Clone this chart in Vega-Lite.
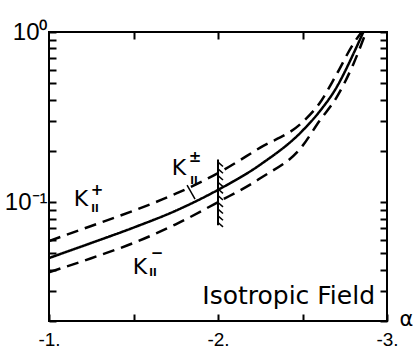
{
  "$schema": "https://vega.github.io/schema/vega-lite/v6.json",
  "width": 338,
  "height": 289,
  "autosize": {"type": "none"},
  "padding": {"left": 49, "top": 32, "right": 30, "bottom": 31},
  "background": "white",
  "config": {"view": {"stroke": "black", "strokeWidth": 2}, "font": "DejaVu Sans"},
  "datasets": {
    "curves": [
      {"series": "Kp", "alpha": -1, "K": 0.059},
      {"series": "Kp", "alpha": -1.25, "K": 0.0724},
      {"series": "Kp", "alpha": -1.5, "K": 0.089},
      {"series": "Kp", "alpha": -1.75, "K": 0.112},
      {"series": "Kp", "alpha": -2, "K": 0.148},
      {"series": "Kp", "alpha": -2.25, "K": 0.209},
      {"series": "Kp", "alpha": -2.5, "K": 0.295},
      {"series": "Kp", "alpha": -2.6, "K": 0.38},
      {"series": "Kp", "alpha": -2.7, "K": 0.56},
      {"series": "Kp", "alpha": -2.8, "K": 0.85},
      {"series": "Kp", "alpha": -2.85, "K": 1.0},
      {"series": "Kpm", "alpha": -1, "K": 0.0469},
      {"series": "Kpm", "alpha": -1.25, "K": 0.0575},
      {"series": "Kpm", "alpha": -1.5, "K": 0.0708},
      {"series": "Kpm", "alpha": -1.75, "K": 0.089},
      {"series": "Kpm", "alpha": -2, "K": 0.118},
      {"series": "Kpm", "alpha": -2.25, "K": 0.166},
      {"series": "Kpm", "alpha": -2.5, "K": 0.263},
      {"series": "Kpm", "alpha": -2.6, "K": 0.34},
      {"series": "Kpm", "alpha": -2.7, "K": 0.47},
      {"series": "Kpm", "alpha": -2.8, "K": 0.74},
      {"series": "Kpm", "alpha": -2.86, "K": 1.0},
      {"series": "Km", "alpha": -1, "K": 0.0387},
      {"series": "Km", "alpha": -1.25, "K": 0.0468},
      {"series": "Km", "alpha": -1.5, "K": 0.0575},
      {"series": "Km", "alpha": -1.75, "K": 0.074},
      {"series": "Km", "alpha": -2, "K": 0.1},
      {"series": "Km", "alpha": -2.25, "K": 0.138},
      {"series": "Km", "alpha": -2.5, "K": 0.214},
      {"series": "Km", "alpha": -2.6, "K": 0.30},
      {"series": "Km", "alpha": -2.7, "K": 0.41},
      {"series": "Km", "alpha": -2.8, "K": 0.645},
      {"series": "Km", "alpha": -2.876, "K": 1.0}
    ],
    "boundary": [{"alpha": -2, "K1": 0.073, "K2": 0.178}],
    "hatch": [
      {"alpha": -2, "K": 0.0759},
      {"alpha": -2, "K": 0.083},
      {"alpha": -2, "K": 0.091},
      {"alpha": -2, "K": 0.0995},
      {"alpha": -2, "K": 0.1091},
      {"alpha": -2, "K": 0.1194},
      {"alpha": -2, "K": 0.1309},
      {"alpha": -2, "K": 0.1432},
      {"alpha": -2, "K": 0.1567},
      {"alpha": -2, "K": 0.1718}
    ],
    "pointer": [{"a1": -1.817, "k1": 0.1259, "a2": -1.864, "k2": 0.1042}],
    "labels": [
      {"role": "K", "alpha": -1.189, "K": 0.1042, "text": "K"},
      {"role": "sup", "alpha": -1.284, "K": 0.1177, "text": "+"},
      {"role": "sub", "alpha": -1.272, "K": 0.091, "text": "II"},
      {"role": "K", "alpha": -1.769, "K": 0.1585, "text": "K"},
      {"role": "sup", "alpha": -1.864, "K": 0.184, "text": "±"},
      {"role": "sub", "alpha": -1.858, "K": 0.133, "text": "II"},
      {"role": "K", "alpha": -1.538, "K": 0.0415, "text": "K"},
      {"role": "sup", "alpha": -1.639, "K": 0.0501, "text": "−"},
      {"role": "sub", "alpha": -1.615, "K": 0.0382, "text": "II"}
    ],
    "note": [{"alpha": -2.929, "K": 0.0251, "text": "Isotropic Field"}]
  },
  "layer": [
    {
      "data": {"name": "curves"},
      "mark": {"type": "line", "color": "black", "strokeWidth": 2.5, "interpolate": "monotone", "clip": true},
      "encoding": {
        "x": {
          "field": "alpha", "type": "quantitative",
          "scale": {"domain": [-1, -3], "nice": false, "zero": false},
          "axis": {
            "orient": "bottom", "grid": false, "domain": false, "offset": -7,
            "values": [-1, -1.5, -2, -2.5, -3],
            "labelExpr": "datum.value == -1 ? '-1.' : datum.value == -2 ? '-2.' : datum.value == -3 ? '-3.' : ''",
            "tickSize": 7, "tickWidth": 2, "tickColor": "black",
            "labelFont": "Liberation Sans", "labelFontSize": 19, "labelColor": "black",
            "labelPadding": 9, "labelFlush": false, "labelOverlap": false,
            "title": "α", "titleX": 350, "titleY": 11, "titleAlign": "left",
            "titleBaseline": "alphabetic", "titleAngle": 0,
            "titleFont": "DejaVu Sans", "titleFontSize": 21, "titleFontWeight": "normal", "titleColor": "black"
          }
        },
        "y": {
          "field": "K", "type": "quantitative",
          "scale": {"type": "log", "domain": [0.02, 1], "nice": false},
          "axis": {
            "orient": "left", "grid": false, "domain": false, "offset": -7,
            "values": [0.02, 0.03, 0.04, 0.05, 0.06, 0.07, 0.08, 0.09, 0.1, 0.2, 0.3, 0.4, 0.5, 0.6, 0.7, 0.8, 0.9, 1],
            "labelExpr": "datum.value == 1 ? '10⁰' : datum.value == 0.1 ? '10⁻¹' : ''",
            "tickSize": 7, "tickWidth": 2, "tickColor": "black",
            "labelFont": "Liberation Sans", "labelFontSize": 24, "labelColor": "black",
            "labelPadding": 2, "labelFlush": false, "labelOverlap": false,
            "title": null
          }
        },
        "strokeDash": {
          "field": "series", "type": "nominal",
          "scale": {"domain": ["Kp", "Kpm", "Km"], "range": [[12, 7], [1, 0], [12, 7]]},
          "legend": null
        }
      }
    },
    {
      "data": {"name": "boundary"},
      "mark": {"type": "rule", "color": "black", "strokeWidth": 2},
      "encoding": {
        "x": {
          "field": "alpha", "type": "quantitative",
          "axis": {
            "orient": "top", "grid": false, "labels": false, "domain": false, "offset": -7,
            "values": [-1.5, -2, -2.5],
            "tickSize": 7, "tickWidth": 2, "tickColor": "black", "title": null
          }
        },
        "y": {
          "field": "K1", "type": "quantitative",
          "axis": {
            "orient": "right", "grid": false, "labels": false, "domain": false, "offset": -7,
            "values": [0.02, 0.03, 0.04, 0.05, 0.06, 0.07, 0.08, 0.09, 0.1, 0.2, 0.3, 0.4, 0.5, 0.6, 0.7, 0.8, 0.9, 1],
            "tickSize": 7, "tickWidth": 2, "tickColor": "black", "title": null
          }
        },
        "y2": {"field": "K2"}
      }
    },
    {
      "data": {"name": "hatch"},
      "mark": {"type": "point", "shape": "M0,0L0.8,0.7", "size": 156, "filled": false, "stroke": "black", "strokeWidth": 1.5, "opacity": 1},
      "encoding": {
        "x": {"field": "alpha", "type": "quantitative", "axis": null},
        "y": {"field": "K", "type": "quantitative", "axis": null}
      }
    },
    {
      "data": {"name": "pointer"},
      "mark": {"type": "rule", "color": "black", "strokeWidth": 1.5},
      "encoding": {
        "x": {"field": "a1", "type": "quantitative", "axis": null},
        "y": {"field": "k1", "type": "quantitative", "axis": null},
        "x2": {"field": "a2"},
        "y2": {"field": "k2"}
      }
    },
    {
      "data": {"name": "labels"},
      "transform": [{"filter": "datum.role == 'K'"}],
      "mark": {"type": "text", "font": "DejaVu Sans", "fontSize": 22, "align": "center", "baseline": "middle", "color": "black"},
      "encoding": {
        "x": {"field": "alpha", "type": "quantitative", "axis": null},
        "y": {"field": "K", "type": "quantitative", "axis": null},
        "text": {"field": "text"}
      }
    },
    {
      "data": {"name": "labels"},
      "transform": [{"filter": "datum.role == 'sup'"}],
      "mark": {"type": "text", "font": "DejaVu Sans", "fontSize": 15, "fontWeight": "bold", "align": "center", "baseline": "middle", "color": "black"},
      "encoding": {
        "x": {"field": "alpha", "type": "quantitative", "axis": null},
        "y": {"field": "K", "type": "quantitative", "axis": null},
        "text": {"field": "text"}
      }
    },
    {
      "data": {"name": "labels"},
      "transform": [{"filter": "datum.role == 'sub'"}],
      "mark": {"type": "text", "font": "DejaVu Sans", "fontSize": 10, "fontWeight": "bold", "align": "center", "baseline": "middle", "color": "black"},
      "encoding": {
        "x": {"field": "alpha", "type": "quantitative", "axis": null},
        "y": {"field": "K", "type": "quantitative", "axis": null},
        "text": {"field": "text"}
      }
    },
    {
      "data": {"name": "note"},
      "mark": {"type": "text", "font": "DejaVu Sans", "fontSize": 25, "align": "right", "baseline": "alphabetic", "color": "black"},
      "encoding": {
        "x": {"field": "alpha", "type": "quantitative", "axis": null},
        "y": {"field": "K", "type": "quantitative", "axis": null},
        "text": {"field": "text"}
      }
    }
  ],
  "resolve": {"axis": {"x": "independent", "y": "independent"}}
}
